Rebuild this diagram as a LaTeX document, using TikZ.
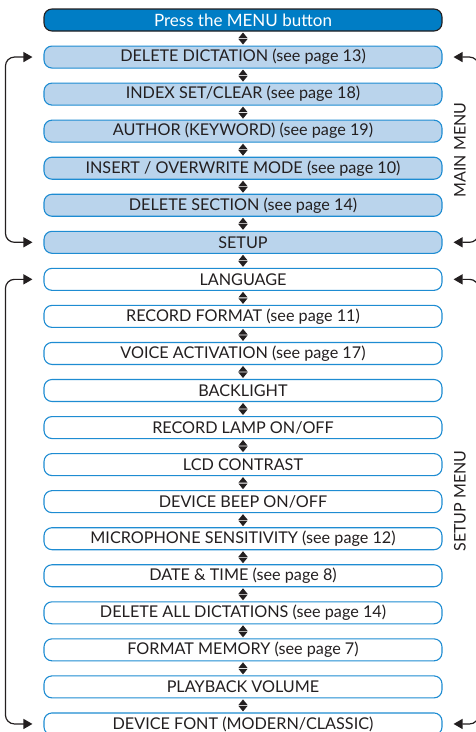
\documentclass[tikz,border=0pt]{standalone}
\usepackage{fontspec}
\setmainfont{Lato}
\usetikzlibrary{arrows.meta}
\definecolor{ink}{RGB}{35,31,32}
\definecolor{hdrblue}{RGB}{0,125,197}
\definecolor{boxline}{RGB}{30,140,210}
\definecolor{mainfill}{RGB}{186,212,236}
\begin{document}
\begin{tikzpicture}[x=1pt,y=-1pt,
  menubox/.style={draw=boxline, line width=1.1pt, rounded corners=8pt, minimum width=398pt, minimum height=22pt, inner sep=0pt, text=ink, font=\fontsize{16.2}{17}\selectfont},
  mainbox/.style={menubox, fill=mainfill},
  setbox/.style={menubox, fill=white},
  hdrbox/.style={menubox, draw=ink, fill=hdrblue, text=white, font=\fontsize{17}{18}\selectfont},
  updown/.style={fill=ink},
  loopline/.style={draw=ink, line width=1.2pt, rounded corners=9pt, {Triangle[length=9pt,width=10pt]}-{Triangle[length=9pt,width=10pt]}},
  sidelabel/.style={rotate=90, text=ink, font=\fontsize{16}{17}\selectfont},
]
\useasboundingbox (0,0) rectangle (476,732);
\def\py{37.05}
\node[hdrbox]  (m0) at (243,20) {Press the MENU button};
\node[mainbox] (m1) at (243,20+1*\py) {DELETE DICTATION (see page 13)};
\node[mainbox] (m2) at (243,20+2*\py) {INDEX SET/CLEAR (see page 18)};
\node[mainbox] (m3) at (243,20+3*\py) {AUTHOR (KEYWORD) (see page 19)};
\node[mainbox] (m4) at (243,20+4*\py) {INSERT / OVERWRITE MODE (see page 10)};
\node[mainbox] (m5) at (243,20+5*\py) {DELETE SECTION (see page 14)};
\node[mainbox] (m6) at (243,20+6*\py) {SETUP};
\node[setbox] (s1) at (243,20+7*\py) {LANGUAGE};
\node[setbox] (s2) at (243,20+8*\py) {RECORD FORMAT (see page 11)};
\node[setbox] (s3) at (243,20+9*\py) {VOICE ACTIVATION (see page 17)};
\node[setbox] (s4) at (243,20+10*\py) {BACKLIGHT};
\node[setbox] (s5) at (243,20+11*\py) {RECORD LAMP ON/OFF};
\node[setbox] (s6) at (243,20+12*\py) {LCD CONTRAST};
\node[setbox] (s7) at (243,20+13*\py) {DEVICE BEEP ON/OFF};
\node[setbox] (s8) at (243,20+14*\py) {MICROPHONE SENSITIVITY (see page 12)};
\node[setbox] (s9) at (243,20+15*\py) {DATE \& TIME (see page 8)};
\node[setbox] (s10) at (243,20+16*\py) {DELETE ALL DICTATIONS (see page 14)};
\node[setbox] (s11) at (243,20+17*\py) {FORMAT MEMORY (see page 7)};
\node[setbox] (s12) at (243,20+18*\py) {PLAYBACK VOLUME};
\node[setbox] (s13) at (243,20+19*\py) {DEVICE FONT (MODERN/CLASSIC)};
\foreach \a/\b in {m0/m1,m1/m2,m2/m3,m3/m4,m4/m5,m5/m6,m6/s1,s1/s2,s2/s3,s3/s4,s4/s5,s5/s6,s6/s7,s7/s8,s8/s9,s9/s10,s10/s11,s11/s12,s12/s13}{
  \path (\a.south) -- coordinate[pos=0.5] (d\a) (\b.north);
  \fill[updown] ([yshift=0.4pt]d\a) ++(-4.6,0) -- ++(9.2,0) -- ++(-4.6,-5.6) -- cycle;
  \fill[updown] ([yshift=-0.4pt]d\a) ++(-4.6,0) -- ++(9.2,0) -- ++(-4.6,5.6) -- cycle;
}
\draw[loopline] ([xshift=-11pt]m1.west) -- ++(-27,0) |- ([xshift=-11pt]m6.west);
\draw[loopline] ([xshift=11pt]m1.east) -- ++(25,0) |- ([xshift=11pt]m6.east);
\draw[loopline] ([xshift=-11pt]s1.west) -- ++(-27,0) |- ([xshift=-11pt]s13.west);
\draw[loopline] ([xshift=11pt]s1.east) -- ++(25,0) |- ([xshift=11pt]s13.east);
\node[sidelabel] (lblmain) at (460,150) {MAIN MENU};
\node[sidelabel] (lblsetup) at (460,501) {SETUP MENU};
\end{tikzpicture}
\end{document}
